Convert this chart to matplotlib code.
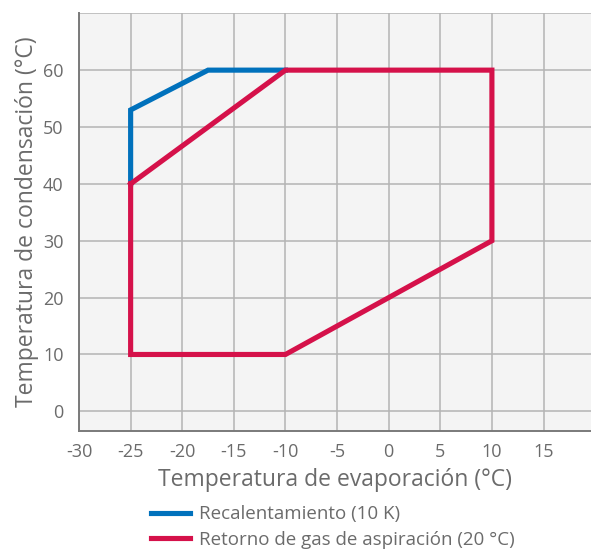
import matplotlib
matplotlib.use("Agg")
import matplotlib.pyplot as plt
from matplotlib.lines import Line2D

plt.rcParams['font.family'] = ['Open Sans', 'DejaVu Sans']
plt.rcParams['axes.unicode_minus'] = False

# data
blue_x = [-25, -25, -17.5, -10]
blue_y = [40, 53, 60, 60]
red_x = [-25, -10, 10, 10, -10, -25, -25]
red_y = [40, 60, 60, 30, 10, 10, 40]
xticks = [-30, -25, -20, -15, -10, -5, 0, 5, 10, 15]
yticks = [0, 10, 20, 30, 40, 50, 60]
labels = ["Recalentamiento (10 K)", "Retorno de gas de aspiración (20 °C)"]

blue = "#0071bc"
red = "#d5114a"
txt = "#6b6b6b"

fig = plt.figure(figsize=(5.91, 5.53), dpi=100)
ax = fig.add_axes([0.1337, 0.2212, 0.8663, 0.7548])
ax.set_facecolor("#f4f4f4")

ax.plot(blue_x, blue_y, color=blue, lw=3.7, solid_joinstyle="miter", zorder=3)
ax.plot(red_x, red_y, color=red, lw=3.7, solid_joinstyle="miter", zorder=4)

ax.set_xlim(-30, 19.6)
ax.set_ylim(-3.4, 70)
ax.set_xticks(xticks)
ax.set_yticks(yticks)
ax.set_yticks([70], minor=True)
ax.grid(True, which="both", color="#b4b4b4", lw=1.1)
ax.set_axisbelow(True)
ax.tick_params(which="both", length=0, labelsize=13, labelcolor=txt)
ax.tick_params(axis="x", pad=9)
ax.tick_params(axis="y", pad=11)

for s in ["top", "right"]:
    ax.spines[s].set_visible(False)
for s in ["left", "bottom"]:
    ax.spines[s].set_color("#7a7a7a")
    ax.spines[s].set_linewidth(1.4)

ax.set_xlabel("Temperatura de evaporación (°C)", fontsize=16.5, color=txt, labelpad=5)
ax.set_ylabel("Temperatura de condensación (°C)", fontsize=16.5, color=txt, labelpad=3)

handles = [Line2D([], [], color=blue, lw=3.7), Line2D([], [], color=red, lw=3.7)]
fig.legend(handles, labels, loc="center left", bbox_to_anchor=(0.2555, 0.047),
           frameon=False, fontsize=13.5, labelcolor=txt, handlelength=2.1,
           handletextpad=0.45, labelspacing=0.4, borderpad=0, borderaxespad=0)

fig.savefig("out.png", dpi=100)
